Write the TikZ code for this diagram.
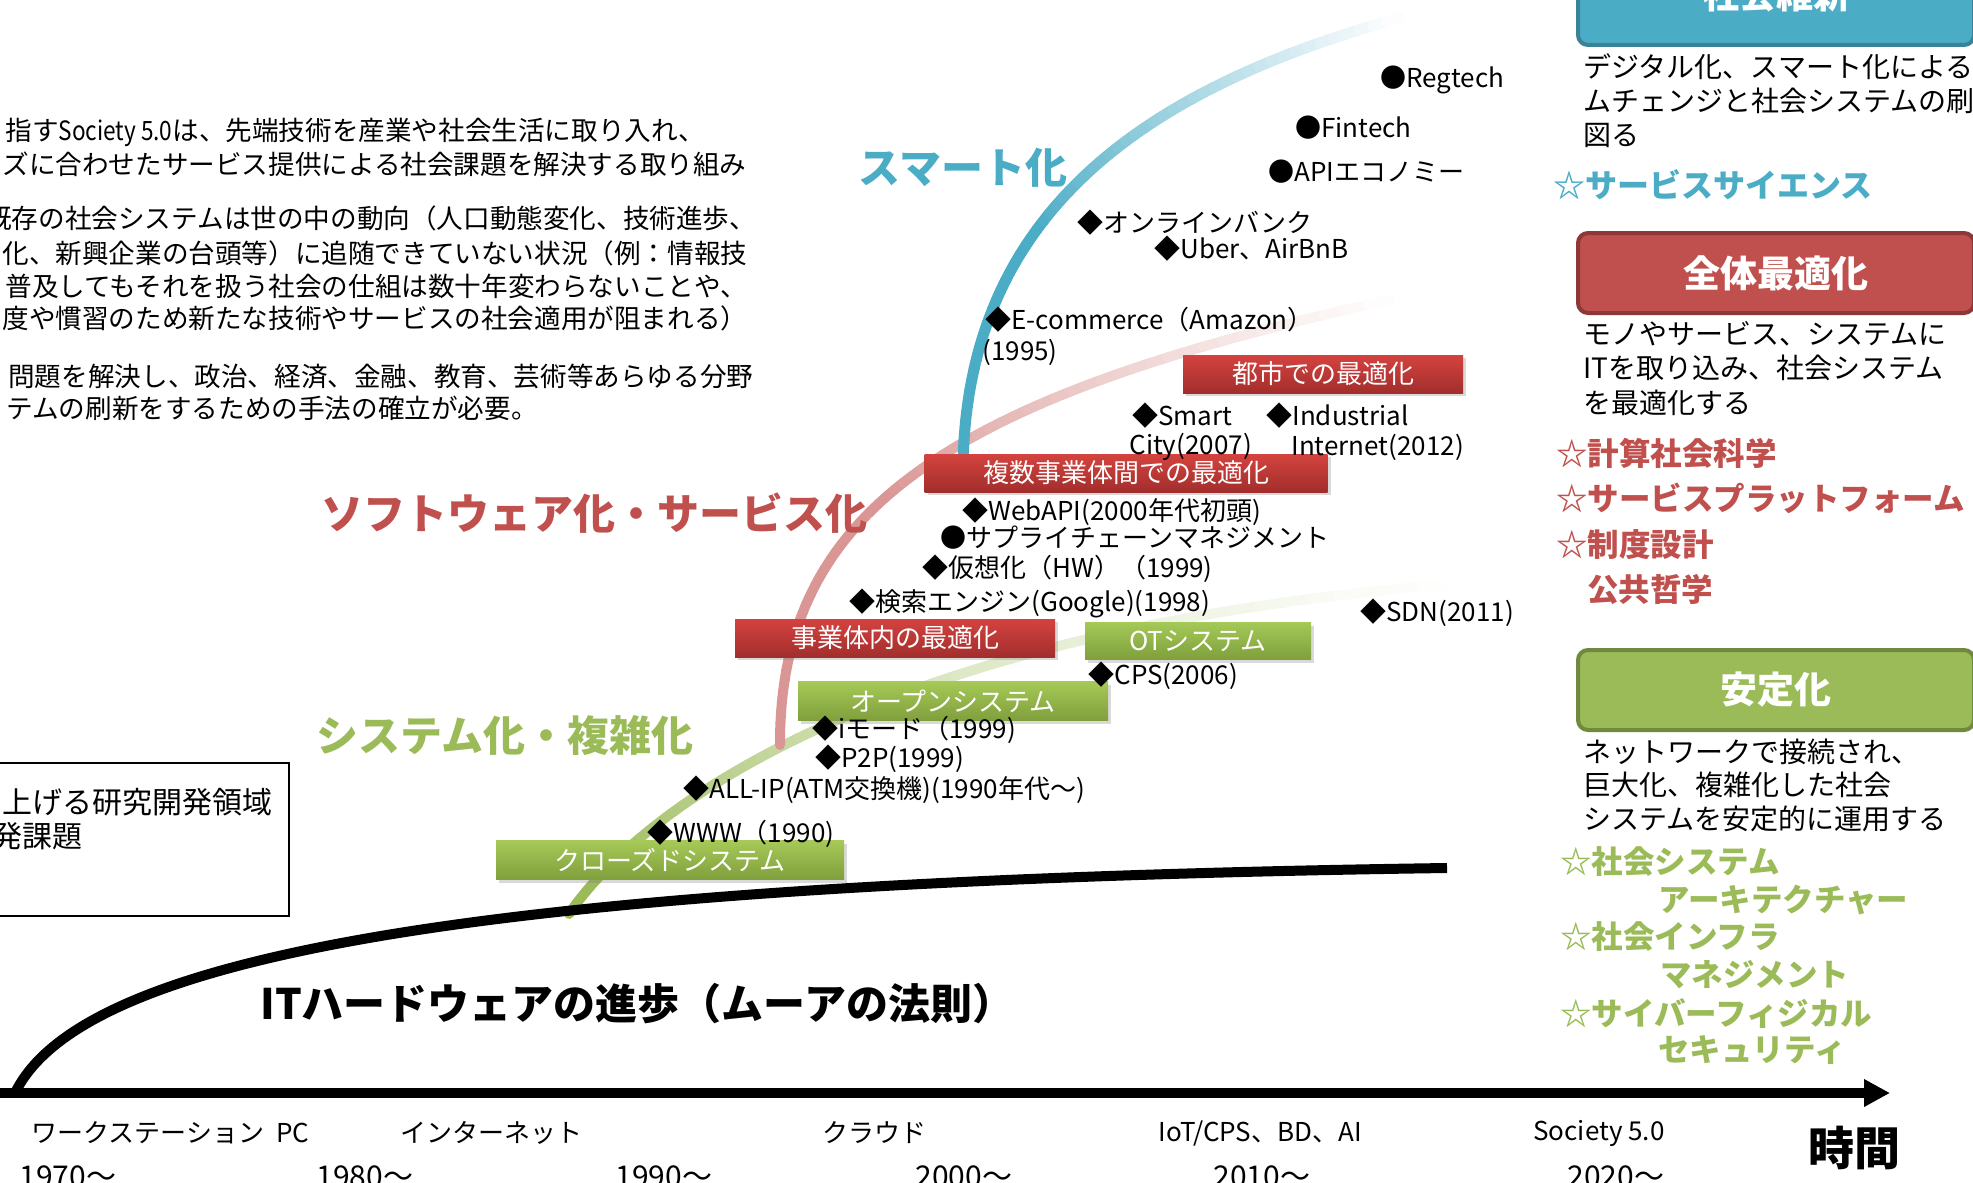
\documentclass[tikz,border=0pt]{standalone}
\usepackage{fontspec}
\setmainfont{Noto Sans CJK JP}
\usetikzlibrary{arrows.meta,shadows}
\definecolor{cblue}{HTML}{4BACC6}
\definecolor{cblueD}{HTML}{3A8296}
\definecolor{cred}{HTML}{C0504D}
\definecolor{credD}{HTML}{8C3836}
\definecolor{cgreen}{HTML}{9BBB59}
\definecolor{cgreenD}{HTML}{71893F}
\definecolor{cpink}{HTML}{D99694}
\definecolor{rtop}{HTML}{D4433F}
\definecolor{rbot}{HTML}{A22E2C}
\definecolor{gtop}{HTML}{A5C957}
\definecolor{gbot}{HTML}{7E9F3C}
\begin{document}
\begin{tikzpicture}[x=0.5pt,y=-0.5pt,
  lab/.style={anchor=west, inner sep=0pt, font=\fontsize{13}{15}\selectfont},
  yr/.style={anchor=west, inner sep=0pt, font=\fontsize{15}{17}\selectfont},
  ltxt/.style={anchor=west, inner sep=0pt, font=\fontsize{13.3}{16}\selectfont},
  rtxt/.style={anchor=west, inner sep=0pt, font=\fontsize{14}{16}\selectfont},
  staritem/.style={anchor=west, inner sep=0pt, font=\bfseries\fontsize{15.75}{18}\selectfont},
  bigtitle/.style={anchor=west, inner sep=0pt, font=\bfseries\fontsize{21}{24}\selectfont},
  rbox/.style={inner sep=0pt, text=white, top color=rtop, bottom color=rbot, font=\fontsize{13}{15}\selectfont,
     drop shadow={opacity=.3,shadow xshift=1.5pt,shadow yshift=-1.5pt}},
  gbox/.style={inner sep=0pt, text=white, top color=gtop, bottom color=gbot, font=\fontsize{13}{15}\selectfont,
     drop shadow={opacity=.3,shadow xshift=1.5pt,shadow yshift=-1.5pt}},
  hdr/.style={line width=2pt, rounded corners=5pt, text=white, font=\bfseries\fontsize{18.5}{20}\selectfont, minimum width=198pt}
]
\useasboundingbox (0,0) rectangle (1973,1182);
\clip (0,0) rectangle (1973,1182);

% green curve
\foreach \i in {0,...,59}{
  \pgfmathsetmacro\ta{\i/60}
  \pgfmathsetmacro\tb{(\i+1)/60}
  \pgfmathtruncatemacro\op{min(100,100*((1-\ta)/0.88)^1.2)}
  \draw[cgreen!\op!white, line width=5pt, line cap=round]
    plot[domain=\ta:\tb, samples=4, variable=\t]
    ({(1-\t)^3*569+3*(1-\t)^2*\t*640+3*(1-\t)*\t^2*880+\t^3*1480},
     {(1-\t)^3*914+3*(1-\t)^2*\t*810+3*(1-\t)*\t^2*625+\t^3*582});
}
% pink curve
\foreach \i in {0,...,59}{
  \pgfmathsetmacro\ta{\i/60}
  \pgfmathsetmacro\tb{(\i+1)/60}
  \pgfmathtruncatemacro\op{min(100,100*(1-\ta)/0.55)}
  \draw[cpink!\op!white, line width=5pt, line cap=round]
    plot[domain=\ta:\tb, samples=4, variable=\t]
    ({(1-\t)^3*780+3*(1-\t)^2*\t*780+3*(1-\t)*\t^2*930+\t^3*1390},
     {(1-\t)^3*745+3*(1-\t)^2*\t*520+3*(1-\t)*\t^2*400+\t^3*300});
}
% blue curve
\foreach \i in {0,...,59}{
  \pgfmathsetmacro\ta{\i/60}
  \pgfmathsetmacro\tb{(\i+1)/60}
  \pgfmathtruncatemacro\op{min(100,100*(1-\ta)/0.6)}
  \draw[cblue!\op!white, line width=5.5pt, line cap=round]
    plot[domain=\ta:\tb, samples=4, variable=\t]
    ({(1-\t)^3*963+3*(1-\t)^2*\t*965+3*(1-\t)*\t^2*1120+\t^3*1400},
     {(1-\t)^3*470+3*(1-\t)^2*\t*230+3*(1-\t)*\t^2*95+\t^3*18});
}

% Moore's law curve and time axis
\coordinate (m0) at (15,1093);
\coordinate (m1) at (1447,868);
\draw[line width=5pt] (m0) .. controls (80,960) and (450,882) .. (m1);
\coordinate (ax0) at (-10,1093);
\coordinate (ax1) at (1890,1093);
\draw[line width=5pt, -{Triangle[length=13pt,width=13pt]}] (ax0) -- (ax1);

% phase labels
\node[bigtitle, text=cblue] (smart) at (858,168) {スマート化};
\node[bigtitle, text=cred] (soft) at (321,513) {ソフトウェア化・サービス化};
\node[bigtitle, text=cgreen] (sys) at (316,735) {システム化・複雑化};
\node[anchor=west, inner sep=0pt, font=\bfseries\fontsize{21}{24}\selectfont] (moore) at (260,1004) {ITハードウェアの進歩（ムーアの法則）};

% boxes
\node[rbox, minimum width=140pt, minimum height=19pt] (r1) at (1323,374) {都市での最適化};
\node[rbox, minimum width=201.5pt, minimum height=19pt] (r2) at (1126,473) {複数事業体間での最適化};
\node[rbox, minimum width=160pt, minimum height=19pt] (r3) at (895,638) {事業体内の最適化};
\node[gbox, minimum width=113pt, minimum height=18.5pt] (g1) at (1198,641) {OTシステム};
\node[gbox, minimum width=155pt, minimum height=19.5pt] (g2) at (953,701) {オープンシステム};
\node[gbox, minimum width=174pt, minimum height=19.5pt] (g3) at (670,860) {クローズドシステム};

% item labels
\node[lab] (i1) at (1380,80) {●Regtech};
\node[lab] (i2) at (1295,128) {●Fintech};
\node[lab] (i3) at (1268,172) {●APIエコノミー};
\node[lab] (i4) at (1077,223) {◆オンラインバンク};
\node[lab] (i5) at (1154,249) {◆Uber、AirBnB};
\node[lab] (i6) at (985,320) {◆E-commerce（Amazon）};
\node[lab] (i7) at (982,352) {(1995)};
\node[lab] (i8) at (1132,416) {◆Smart};
\node[lab] (i9) at (1129,447) {City(2007)};
\node[lab] (i10) at (1266,416) {◆Industrial};
\node[lab] (i11) at (1291,447) {Internet(2012)};
\node[lab] (i12) at (962,512) {◆WebAPI(2000年代初頭)};
\node[lab] (i13) at (940,538) {●サプライチェーンマネジメント};
\node[lab] (i14) at (922,569) {◆仮想化（HW）（1999)};
\node[lab] (i15) at (849,603) {◆検索エンジン(Google)(1998)};
\node[lab] (i16) at (1360,613) {◆SDN(2011)};
\node[lab] (i17) at (1088,676) {◆CPS(2006)};
\node[lab] (i18) at (812,730) {◆iモード（1999)};
\node[lab] (i19) at (815,759) {◆P2P(1999)};
\node[lab] (i20) at (683,790) {◆ALL-IP(ATM交換機)(1990年代～)};
\node[lab] (i21) at (647,834) {◆WWW（1990)};

% left text
\node[ltxt] (l1) at (5,132) {指す\scalebox{0.85}[1]{Society 5.0}は、先端技術を産業や社会生活に取り入れ、};
\node[ltxt] (l2) at (2,164) {ズに合わせたサービス提供による社会課題を解決する取り組み};
\node[ltxt] (l3) at (-15,218) {既存の社会システムは世の中の動向（人口動態変化、技術進歩、};
\node[ltxt] (l4) at (2,253) {化、新興企業の台頭等）に追随できていない状況（例：情報技};
\node[ltxt] (l5) at (5,286) {普及してもそれを扱う社会の仕組は数十年変わらないことや、};
\node[ltxt] (l6) at (2,318) {度や慣習のため新たな技術やサービスの社会適用が阻まれる）};
\node[ltxt] (l7) at (8,376) {問題を解決し、政治、経済、金融、教育、芸術等あらゆる分野};
\node[ltxt] (l8) at (6,408) {テムの刷新をするための手法の確立が必要。};

% left box
\draw[line width=1pt] (-10,763) rectangle (289,916);
\node[anchor=west, inner sep=0pt, font=\fontsize{15}{17}\selectfont] (b1) at (2,802) {上げる研究開発領域};
\node[anchor=west, inner sep=0pt, font=\fontsize{15}{17}\selectfont] (b2) at (-8,836) {発課題};

% right panel
\node[hdr, fill=cblue, draw=cblueD, minimum height=51pt] (h1) at (1776,-6) {社会維新};
\node[rtxt] (t1) at (1583,67) {デジタル化、スマート化による};
\node[rtxt] (t2) at (1583,101) {ムチェンジと社会システムの刷};
\node[rtxt] (t3) at (1583,135) {図る};
\node[anchor=west, inner sep=0pt, text=cblue, font=\bfseries\fontsize{16}{18}\selectfont] (s1) at (1553,185) {☆サービスサイエンス};

\node[hdr, fill=cred, draw=credD, minimum height=40pt] (h2) at (1776,273) {全体最適化};
\node[rtxt] (t4) at (1583,334) {モノやサービス、システムに};
\node[rtxt] (t5) at (1583,368) {ITを取り込み、社会システム};
\node[rtxt] (t6) at (1583,403) {を最適化する};
\node[staritem, text=cred] (s2) at (1556,453) {☆計算社会科学};
\node[staritem, text=cred] (s3) at (1556,498) {☆サービスプラットフォーム};
\node[staritem, text=cred] (s4) at (1556,545) {☆制度設計};
\node[staritem, text=cred] (s5) at (1587,590) {公共哲学};

\node[hdr, fill=cgreen, draw=cgreenD, minimum height=40pt] (h3) at (1776,690) {安定化};
\node[rtxt] (t7) at (1583,752) {ネットワークで接続され、};
\node[rtxt] (t8) at (1583,785) {巨大化、複雑化した社会};
\node[rtxt] (t9) at (1583,819) {システムを安定的に運用する};
\node[staritem, text=cgreen] (s6) at (1560,862) {☆社会システム};
\node[staritem, text=cgreen] (s7) at (1658,900) {アーキテクチャー};
\node[staritem, text=cgreen] (s8) at (1560,937) {☆社会インフラ};
\node[staritem, text=cgreen] (s9) at (1660,975) {マネジメント};
\node[staritem, text=cgreen] (s10) at (1560,1013) {☆サイバーフィジカル};
\node[staritem, text=cgreen] (s11) at (1658,1050) {セキュリティ};

% bottom labels
\node[lab] (e1) at (31,1133) {ワークステーション\hspace{6pt}PC};
\node[lab] (e2) at (400,1133) {インターネット};
\node[lab] (e3) at (822,1133) {クラウド};
\node[lab] (e4) at (1158,1133) {IoT/CPS、BD、AI};
\node[lab] (e5) at (1533,1133) {Society 5.0};
\node[yr] (y1) at (19,1177) {1970～};
\node[yr] (y2) at (316,1177) {1980～};
\node[yr] (y3) at (615,1177) {1990～};
\node[yr] (y4) at (915,1177) {2000～};
\node[yr] (y5) at (1213,1177) {2010～};
\node[yr] (y6) at (1567,1177) {2020～};
\node[anchor=west, inner sep=0pt, font=\bfseries\fontsize{23}{26}\selectfont] (time) at (1808,1148) {時間};
\end{tikzpicture}
\end{document}
